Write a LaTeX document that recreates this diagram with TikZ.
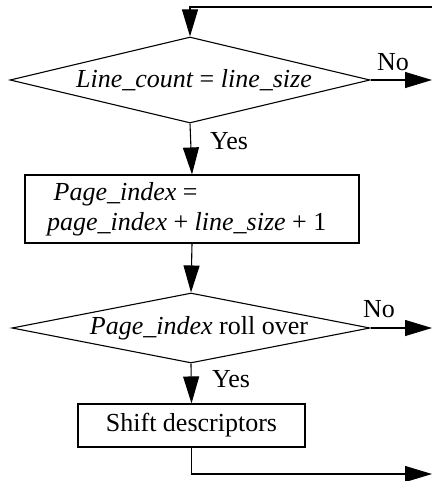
\documentclass[tikz,border=0pt]{standalone}
\usepackage{fontspec}
\setmainfont{Liberation Serif}
\usetikzlibrary{shapes.geometric,arrows.meta}

\tikzset{
  flow/.style={line width=1.1pt, -{Triangle[length=27pt,width=16pt]}},
  decision/.style={diamond, draw, line width=1.1pt, inner sep=0pt, aspect=4},
  process/.style={rectangle, draw, line width=1.1pt, inner sep=0pt},
  lbl/.style={inner sep=0pt, font=\fontsize{26}{30}\selectfont}
}

\begin{document}
\begin{tikzpicture}[x=1pt, y=-1pt, font=\fontsize{26}{30}\selectfont]
  \useasboundingbox (0,0) rectangle (432,481);

  % decision: is the line full?
  \node[decision, minimum width=360pt, minimum height=86pt] (d1) at (190,80) {};
  \node[lbl] (t1) at (194,80) {\itshape Line\_count \upshape= \itshape line\_size};

  % page index update
  \node[process, minimum width=334pt, minimum height=68pt] (b1) at (192,209) {};
  \node[lbl, align=left, anchor=west] (t2) at (47,209)
    {\ \itshape Page\_index \upshape=\\ \itshape page\_index \upshape+ \itshape line\_size \upshape+ 1};

  % decision: does the page index roll over?
  \node[decision, minimum width=358pt, minimum height=70pt] (d2) at (191,328) {};
  \node[lbl] (t3) at (199,328) {\itshape Page\_index \upshape roll over};

  % descriptor shift
  \node[process, minimum width=227pt, minimum height=43pt] (b2) at (191.5,425.5) {Shift descriptors};

  % loose ends at the right border
  \coordinate (loopin) at (432,7);
  \coordinate (no1) at (432,80);
  \coordinate (no2) at (432,328);
  \coordinate (out) at (432,474);

  % connectors
  \draw[flow] (loopin) -| (d1.north);
  \draw[flow] (d1.east) -- (no1);
  \draw[flow] (d1.south) -- (b1.north);
  \draw[flow] (b1.south) -- (d2.north);
  \draw[flow] (d2.east) -- (no2);
  \draw[flow] (d2.south) -- (b2.north);
  \draw[flow] (b2.south) |- (out);

  % branch labels
  \node[lbl] (no1l) at (393,62) {No};
  \node[lbl] (yes1l) at (229,141) {Yes};
  \node[lbl] (no2l) at (379,309) {No};
  \node[lbl] (yes2l) at (231,379) {Yes};
\end{tikzpicture}
\end{document}
